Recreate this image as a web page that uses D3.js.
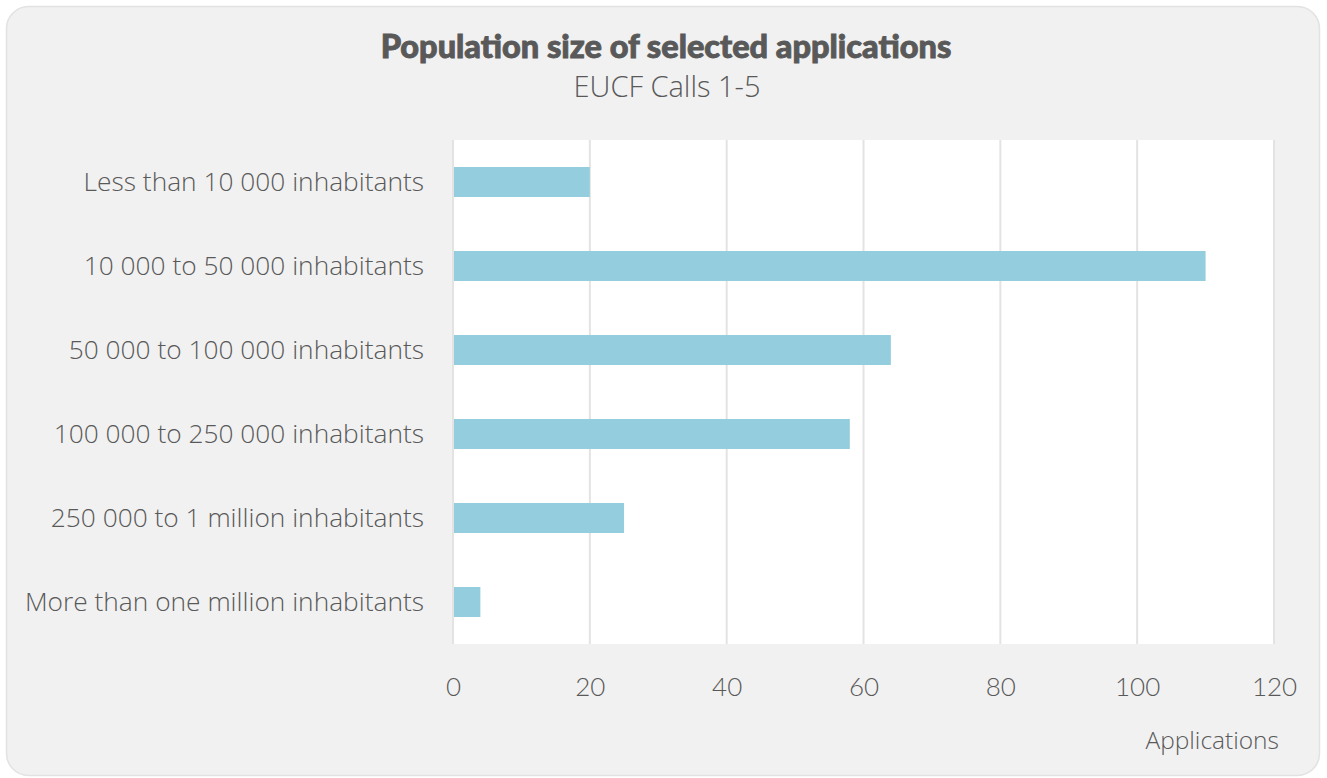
<!DOCTYPE html>
<html>
<head>
<meta charset="utf-8">
<script src="https://cdn.jsdelivr.net/npm/d3@7"></script>
<style>
  body { margin: 0; background: #ffffff; }
  text { font-family: "Open Sans", Lato, sans-serif; }
</style>
</head>
<body>
<div id="chart"></div>
<script>
// data
var categories = [
  "Less than 10 000 inhabitants",
  "10 000 to 50 000 inhabitants",
  "50 000 to 100 000 inhabitants",
  "100 000 to 250 000 inhabitants",
  "250 000 to 1 million inhabitants",
  "More than one million inhabitants"
];
var applications = [20, 110, 64, 58, 25, 4];
var xTicks = [0, 20, 40, 60, 80, 100, 120];

var width = 1327, height = 778;
var plot = { left: 453, right: 1274, top: 140, bottom: 644 };

var svg = d3.select('#chart').append('svg')
  .attr('width', width)
  .attr('height', height);

// card background
svg.append('rect')
  .attr('x', 6.5).attr('y', 6.5)
  .attr('width', 1313).attr('height', 769)
  .attr('rx', 22).attr('ry', 22)
  .attr('fill', '#f1f1f1')
  .attr('stroke', '#e2e2e2')
  .attr('stroke-width', 1.5);

// titles
svg.append('text')
  .attr('x', 666).attr('y', 58)
  .attr('text-anchor', 'middle')
  .style('font-family', 'Lato, sans-serif')
  .style('font-size', '32.5px')
  .style('font-weight', 900)
  .attr('fill', '#595959')
  .attr('stroke', '#595959')
  .attr('stroke-width', 0.9)
  .text('Population size of selected applications');

svg.append('text')
  .attr('x', 667).attr('y', 97)
  .attr('text-anchor', 'middle')
  .style('font-size', '29px')
  .style('font-weight', 300)
  .attr('fill', '#595959')
  .text('EUCF Calls 1-5');

var x = d3.scaleLinear().domain([0, 120]).range([plot.left, plot.right]);
var y = d3.scaleBand().domain(categories).range([plot.top, plot.bottom]).paddingInner(0).paddingOuter(0);

// plot area
svg.append('rect')
  .attr('x', plot.left).attr('y', plot.top)
  .attr('width', plot.right - plot.left)
  .attr('height', plot.bottom - plot.top)
  .attr('fill', '#ffffff');

// gridlines
svg.append('g').selectAll('line')
  .data(xTicks)
  .enter().append('line')
  .attr('x1', function(d) { return x(d); })
  .attr('x2', function(d) { return x(d); })
  .attr('y1', plot.top).attr('y2', plot.bottom)
  .attr('stroke', '#e3e3e3')
  .attr('stroke-width', 2);

// bars
var barH = 30;
svg.append('g').selectAll('rect')
  .data(applications)
  .enter().append('rect')
  .attr('x', x(0) + 1)
  .attr('y', function(d, i) { return y(categories[i]) + y.bandwidth() / 2 - barH / 2; })
  .attr('width', function(d) { return x(d) - x(0) - 1; })
  .attr('height', barH)
  .attr('fill', '#94cddd');

// category labels
svg.append('g').selectAll('text')
  .data(categories)
  .enter().append('text')
  .attr('x', 424)
  .attr('y', function(d) { return y(d) + y.bandwidth() / 2; })
  .attr('dy', '0.35em')
  .attr('text-anchor', 'end')
  .style('font-size', '26.3px')
  .style('font-weight', 300)
  .attr('fill', '#595959')
  .text(function(d) { return d; });

// x axis tick labels
var xAxis = d3.axisBottom(x).tickValues(xTicks).tickSize(0).tickPadding(0);
var gx = svg.append('g')
  .attr('transform', 'translate(0,' + 696 + ')')
  .call(xAxis);
gx.select('.domain').remove();
gx.selectAll('text')
  .attr('dy', 0)
  .attr('fill', '#595959')
  .style('font-size', '26px')
  .style('font-weight', 300)
  .style('font-family', 'Lato, sans-serif');

// axis title
svg.append('text')
  .attr('x', 1279).attr('y', 749)
  .attr('text-anchor', 'end')
  .style('font-size', '24.5px')
  .style('font-weight', 300)
  .attr('fill', '#595959')
  .text('Applications');
</script>
</body>
</html>
